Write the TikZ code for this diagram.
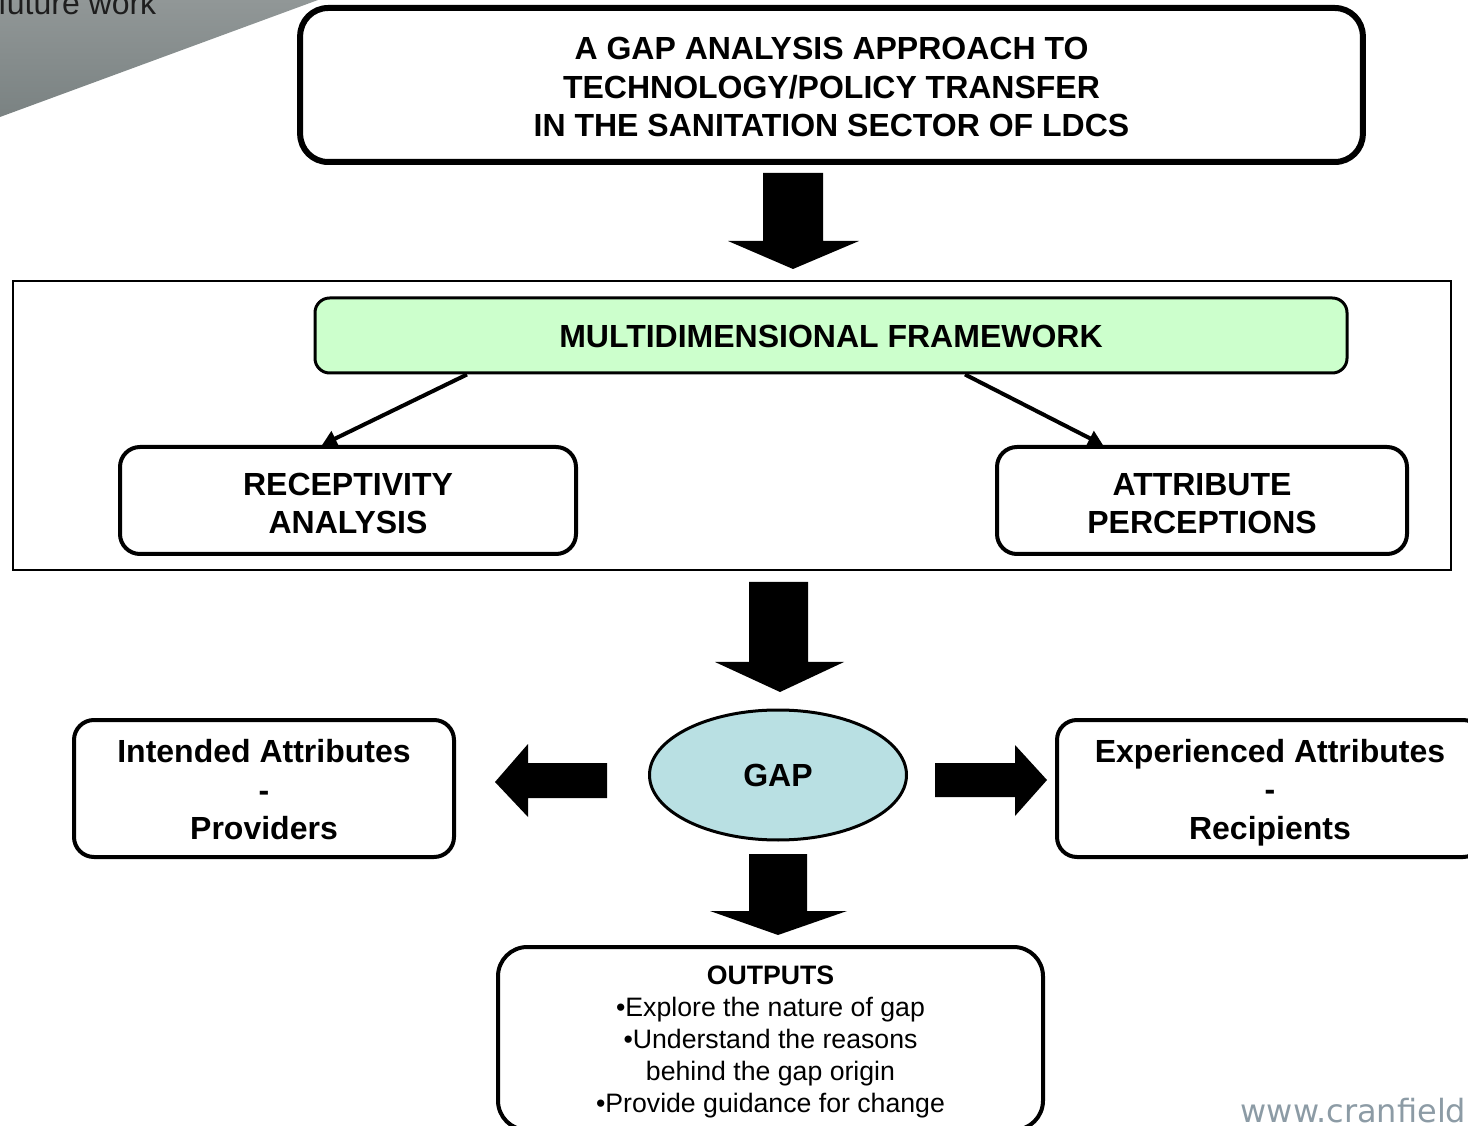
\documentclass[tikz,border=0pt]{standalone}
\usepackage{fontspec}
\setmainfont{Liberation Sans}
\newfontfamily\logofont{DejaVu Sans}
\usetikzlibrary{shapes.geometric,arrows.meta,calc}

\definecolor{mdfgreen}{RGB}{204,255,204}
\definecolor{gapblue}{RGB}{185,224,227}
\definecolor{cornergray}{RGB}{122,130,130}
\definecolor{cornerlight}{RGB}{145,151,151}
\definecolor{logogray}{RGB}{140,155,165}

% invisible rule to push the first line down
\newcommand{\tstrut}[1]{\rule{0pt}{#1}}

\begin{document}
\begin{tikzpicture}[x=0.75pt,y=0.75pt,yscale=-1,xscale=1,
  rbox/.style={draw, rounded corners=15pt, line width=3pt, align=center, inner sep=0pt,
    font=\bfseries\fontsize{24}{28.5}\selectfont},
  thinarr/.style={line width=3pt, -{Triangle[length=11pt,width=12pt]}},
]
\clip (0,0) rectangle (1468,1126);

%Corner shape
\shade[top color=cornerlight, bottom color=cornergray] (0,0) -- (318,0) -- (0,117) -- cycle;
% Text Node
\node[anchor=base east, font=\fontsize{24}{28}\selectfont, text={rgb,255:red,30;green,30;blue,30}] (fw) at (161,15) {future work};

% Title box
\node[rbox, line width=4.5pt, rounded corners=21pt, minimum width=797pt, minimum height=115.5pt,
  font=\bfseries\fontsize{24}{29}\selectfont] (title) at (831.5,85)
  {\tstrut{20.2pt}A GAP ANALYSIS APPROACH TO\\TECHNOLOGY/POLICY TRANSFER\\IN THE SANITATION SECTOR OF LDCS};

% Frame
\node[draw, line width=2pt, minimum width=1078.5pt, minimum height=216.75pt, inner sep=0pt] (frame) at (732,425.5) {};

% Framework boxes
\node[rbox, line width=2.25pt, rounded corners=11pt, fill=mdfgreen, minimum width=774pt, minimum height=56.25pt] (mdf) at (831,335.5) {\tstrut{18.5pt}MULTIDIMENSIONAL FRAMEWORK};
\node[rbox, minimum width=342pt, minimum height=80.25pt] (recept) at (348,500.5) {\tstrut{21.7pt}RECEPTIVITY\\ANALYSIS};
\node[rbox, minimum width=307.5pt, minimum height=80.25pt] (attrib) at (1202,500.5) {\tstrut{21.7pt}ATTRIBUTE\\PERCEPTIONS};

% Gap
\node[ellipse, draw, line width=2.25pt, fill=gapblue, minimum width=192.75pt, minimum height=97.5pt,
  font=\bfseries\fontsize{24}{28.5}\selectfont] (gap) at (778,775) {GAP};
\node[rbox, minimum width=285pt, minimum height=102.75pt, font=\bfseries\fontsize{24}{29}\selectfont] (intended) at (264,788.5) {\tstrut{19pt}Intended Attributes\\-\\Providers};
\node[rbox, minimum width=319.5pt, minimum height=102.75pt, font=\bfseries\fontsize{24}{29}\selectfont] (experienced) at (1270,788.5) {\tstrut{23.5pt}Experienced Attributes\\-\\Recipients};

% Outputs
\node[rbox, rounded corners=22pt, minimum width=408.75pt, minimum height=137.25pt,
  font=\fontsize{20}{24}\selectfont] (outputs) at (770.5,1038.5)
  {\tstrut{19.3pt}\textbf{OUTPUTS}\\•Explore the nature of gap\\•Understand the reasons\\behind the gap origin\\•Provide guidance for change};

% Thin arrows
\draw[thinarr] ($(mdf.south)+(-364,0)$) -- ($(recept.north)+(-26,0)$);
\draw[thinarr] ($(mdf.south)+(134,0)$) -- ($(attrib.north)+(-99,0)$);

% Block arrows
\fill (763,173) -- (823,173) -- (823,241) -- (859,241) -- (793,269) -- (728,241) -- (763,241) -- cycle;
\fill (749,582) -- (808,582) -- (808,662) -- (844,662) -- (780,692) -- (715,662) -- (749,662) -- cycle;
\fill (749,854) -- (807,854) -- (807,911) -- (847,911) -- (778,935) -- (710,911) -- (749,911) -- cycle;
\fill (935,763) -- (1015,763) -- (1015,745) -- (1047,780) -- (1015,816) -- (1015,797) -- (935,797) -- cycle;
\fill (607,763) -- (528,763) -- (528,744) -- (495,782) -- (528,817) -- (528,798) -- (607,798) -- cycle;

% Logo text
\node[anchor=base west, font=\logofont\fontsize{24}{28}\selectfont, text=logogray] (logo) at (1236,1122) {www.cranfield};

\end{tikzpicture}
\end{document}
